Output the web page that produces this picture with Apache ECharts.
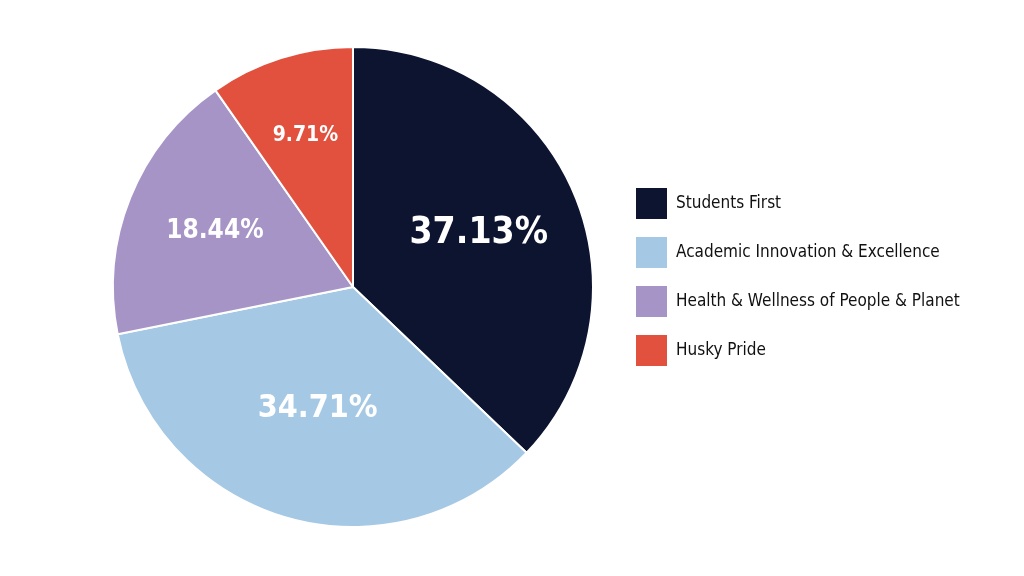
<!DOCTYPE html>
<html><head><meta charset="utf-8">
<script src="https://cdn.jsdelivr.net/npm/echarts@6/dist/echarts.min.js"></script>
<style>html,body{margin:0;padding:0;background:#fff}#c{width:1024px;height:576px}</style>
</head><body><div id="c"></div>
<script>
const categories = ['Students First', 'Academic Innovation & Excellence', 'Health & Wellness of People & Planet', 'Husky Pride'];
const values = [37.13, 34.71, 18.44, 9.71];
const colors = ['#0d1430', '#a5c8e4', '#a794c7', '#e2503e'];
const FONT = '"DejaVu Sans Condensed", "Liberation Sans Narrow", sans-serif';

const labelSizes = [37, 32, 26, 21];
const labelRadialFrac = [0.57, 0.53, 0.62, 0.66];
const CX = 353, CY = 287, R = 240;

const chart = echarts.init(document.getElementById('c'));
chart.setOption({
  animation: false,
  legend: {
    orient: 'vertical', left: 629, top: 181,
    itemWidth: 33, itemHeight: 33, itemGap: 14,
    icon: 'rect',
    textStyle: { fontFamily: FONT, fontSize: 17, color: '#111', padding: [0, 0, 0, 3] },
    data: categories
  },
  series: [{
    type: 'pie',
    center: [CX, CY],
    radius: R,
    startAngle: 90,
    clockwise: true,
    silent: true,
    itemStyle: { borderColor: '#fff', borderWidth: 2 },
    label: {
      show: true, position: 'inside', color: '#fff', fontFamily: FONT, fontWeight: 'bold',
      formatter: p => p.value.toFixed(2) + '%'
    },
    labelLine: { show: false },
    labelLayout: function (p) {
      const lx = p.labelRect.x + p.labelRect.width / 2;
      const ly = p.labelRect.y + p.labelRect.height / 2;
      const dx = lx - CX, dy = ly - CY;
      const d = Math.sqrt(dx * dx + dy * dy) || 1;
      const f = labelRadialFrac[p.dataIndex] * R / d;
      return { x: CX + dx * f, y: CY + dy * f, align: 'center', verticalAlign: 'middle' };
    },
    data: categories.map((n, i) => ({
      name: n, value: values[i],
      itemStyle: { color: colors[i] },
      label: { fontSize: labelSizes[i] }
    }))
  }]
});
</script></body></html>
